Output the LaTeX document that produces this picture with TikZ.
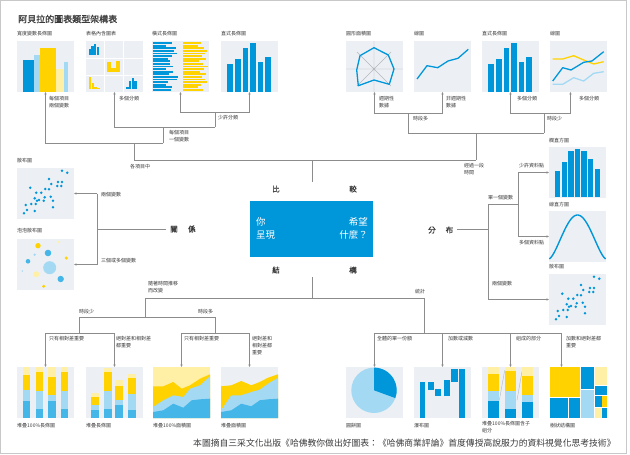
\documentclass[tikz,border=0pt]{standalone}
\usepackage{fontspec}
\setmainfont{Noto Sans CJK TC}
\newfontfamily\cjkb{Noto Sans CJK TC}[FakeBold=1.2]
\usetikzlibrary{arrows.meta,calc}
\definecolor{cblue}{HTML}{0096DA}
\definecolor{cmblue}{HTML}{45B6E8}
\definecolor{clblue}{HTML}{A4D9F4}
\definecolor{cyel}{HTML}{FFD200}
\definecolor{clyel}{HTML}{FFF0A6}
\definecolor{cbg}{HTML}{ECF0F4}
\definecolor{cline}{HTML}{8C8C8C}
\definecolor{ctext}{HTML}{3A3A3A}
\definecolor{cframe}{HTML}{C8C8C8}
\definecolor{caxis}{HTML}{B4B8BC}
\newcommand\mycolchart{\foreach \t [count=\i from 0] in {23,18.3,7,2,20.7,16} {\fill[cblue] ({6.3+\i*7.6},\t) rectangle ({12+\i*7.6},51);}}
\newcommand\myscatter{\foreach \px/\py in {45/2.7,50.3/4.7,32/11,41/14,45/14,34.3/16,40.3/18,44.3/18,13.3/19.7,28.3/21,32/21.3,24.3/24.7,19.3/24.7,27.7/29.3,33.7/28.7,17.7/30.3,20/32.7,22/32,26.7/32.7,36/32.7,14.3/36,18.7/36,8.7/37,36/39.3,10/42,17.7/43,7/45.3} {\fill[cblue] (\px,\py) circle[radius=1.4pt];}}
\begin{document}
\begin{tikzpicture}[x=1pt,y=-1pt,
 conn/.style={draw=cline, line width=0.55pt},
 arr/.style={conn, -{Stealth[length=2.6pt,width=2.4pt]}},
 panel/.style={fill=cbg, minimum width=57pt, minimum height=51pt, inner sep=0pt, outer sep=0pt, anchor=north west},
 bare/.style={panel, fill=none},
 lbl/.style={font=\fontsize{5}{7}\selectfont, text=ctext, inner sep=0pt, anchor=west},
 mlbl/.style={lbl, anchor=north west, align=left},
 big/.style={font=\cjkb\fontsize{7.5}{9}\selectfont, text=ctext, inner sep=0pt},
 qtxt/.style={font=\fontsize{9.5}{13}\selectfont, text=white, inner sep=0pt}]
\useasboundingbox (0,0) rectangle (630,455);
\draw[cframe, line width=1pt] (0.5,0.5) rectangle (626,453.5);

% title
\node[font=\cjkb\fontsize{9}{11}\selectfont, anchor=west, inner sep=0pt, text=ctext] (title) at (18,19) {阿貝拉的圖表類型架構表};

% panels
\node[panel] (A1) at (17,41) {};
\node[panel] (A2) at (86,41) {};
\node[panel] (A3) at (152,41) {};
\node[panel] (A4) at (221,41) {};
\node[panel] (B1) at (346,41) {};
\node[panel] (B2) at (414,41) {};
\node[panel] (B3) at (482,41) {};
\node[panel] (B4) at (550,41) {};
\node[panel] (C1) at (17,168) {};
\node[panel] (C2) at (17,239) {};
\node[panel] (D1) at (549,147) {};
\node[panel] (D2) at (549,211) {};
\node[panel] (D3) at (549,274) {};
\node[panel] (E1) at (17,367) {};
\node[panel] (E2) at (86,367) {};
\node[panel] (E3) at (153,367) {};
\node[panel] (E4) at (221,367) {};
\node[panel] (F1) at (346,367) {};
\node[panel] (F2) at (414,367) {};
\node[panel] (F3) at (482,367) {};
\node[bare] (F4) at (550,367) {};

% A1 variable width column
\begin{scope}[shift={(A1.north west)}]
\fill[cblue] (6,19) rectangle (17,51);
\fill[clblue] (17,14) rectangle (23,51);
\fill[cyel] (23.3,6.7) rectangle (39.3,51);
\fill[clyel] (39.3,28) rectangle (46.7,51);
\fill[clblue] (46.7,20.7) rectangle (51,51);
\end{scope}
% A2 table with charts
\begin{scope}[shift={(A2.north west)}]
\draw[white, line width=0.8pt] (18.3,0) -- (18.3,51) (37.7,0) -- (37.7,51) (0,17.3) -- (57,17.3) (0,34) -- (57,34);
\foreach \a/\t in {2.7/8,5.3/4.7,8/3.3,10.7/5.7} {\fill[cblue] (\a,\t) rectangle ({\a+2.3},14);}
\fill[cyel] (21,20.7) rectangle (24.5,30.7);
\fill[cyel] (24.8,27) rectangle (29.5,30.7);
\fill[cyel] (29.8,19.5) rectangle (33.7,30.7);
\foreach \a/\t in {2.7/36.3,5.5/41.5,8.3/45.5,11.1/46.5} {\fill[cyel] (\a,\t) rectangle ({\a+2.4},48.3);}
\foreach \a/\t in {40.3/46,43/39.5,45.7/37,48.4/40} {\fill[cblue] (\a,\t) rectangle ({\a+2.4},48.3);}
\end{scope}
% A3 bar chart
\begin{scope}[shift={(A3.north west)}]
\foreach \b/\c [count=\i from 0] in {20/49,14.3/46,23.7/52,21.7/55,25.3/53,19.7/50,15.7/54,18.3/47,17.7/51,21/56,13.7/52,21.3/48,17/54,26/50,25/53,16/55,14.3/49,20.3/46,19.3/51}
 {\fill[cblue] (1,{1.2+\i*2.6}) rectangle (\b,{3+\i*2.6});
  \fill[cyel] (30.7,{1.2+\i*2.6}) rectangle (\c,{3+\i*2.6});}
\end{scope}
% A4 column chart
\begin{scope}[shift={(A4.north west)}]\mycolchart\end{scope}
% B1 radar
\begin{scope}[shift={(B1.north west)}]
\draw[caxis, line width=0.4pt] (0,28) -- (57,28) (28,0) -- (28,51) (11,11) -- (45,45) (11,45) -- (45,11);
\draw[cblue, line width=1.3pt, line join=round] (28,6.7) -- (42.3,14) -- (48,28) -- (43.3,43.3) -- (28,39) -- (12.3,44.7) -- (10.7,29) -- (14,14.7) -- cycle;
\end{scope}
% B2 line
\begin{scope}[shift={(B2.north west)}]
\draw[cblue, line width=1.3pt, line join=round] (3,38) -- (13,24.7) -- (23.7,26.7) -- (34,20) -- (44,17.3) -- (54.3,8.3);
\end{scope}
% B3 column chart
\begin{scope}[shift={(B3.north west)}]\mycolchart\end{scope}
% B4 multi-line
\begin{scope}[shift={(B4.north west)}]
\draw[cyel, line width=1.3pt, line join=round] (2.7,18) -- (12.7,18) -- (23.7,14.7) -- (33.7,19) -- (43.7,23) -- (53.7,20.7);
\draw[clblue, line width=1.3pt, line join=round] (2.7,43.3) -- (12.7,43.3) -- (23.7,36.7) -- (33.7,40) -- (43.7,32.3) -- (53.7,30.7);
\draw[cblue, line width=1.3pt, line join=round] (2.7,40) -- (12.7,26.7) -- (21,29) -- (33.7,21.3) -- (42,20) -- (53.7,10.7);
\end{scope}
% C1 scatter
\begin{scope}[shift={(C1.north west)}]\myscatter\end{scope}
% C2 bubble
\begin{scope}[shift={(C2.north west)}]
\fill[cyel] (21,6.7) circle[radius=2.7pt];
\fill[clyel] (42,3) circle[radius=1.3pt];
\fill[cmblue] (31,14) circle[radius=3.3pt];
\fill[clblue] (17.7,15.7) circle[radius=1.3pt];
\fill[cyel] (49.3,19) circle[radius=1.7pt];
\fill[cmblue] (11,22.3) circle[radius=2.3pt];
\fill[clblue] (32.7,28.7) circle[radius=6.5pt];
\fill[clblue] (5.3,32) circle[radius=0.8pt];
\fill[clyel] (19.3,35.3) circle[radius=3pt];
\fill[cmblue] (43.7,40) circle[radius=3.2pt];
\fill[cyel] (26.7,47.3) circle[radius=1.7pt];
\end{scope}
% D1 histogram
\begin{scope}[shift={(D1.north west)}]
\foreach \t [count=\i from 0] in {24,15,4,2,4,12,22} {\fill[cblue] ({6+\i*6.6},\t) rectangle ({11.4+\i*6.6},49.5);}
\end{scope}
% D2 bell curve
\begin{scope}[shift={(D2.north west)}]
\draw[cblue, line width=1.4pt] plot[domain=0.3:56.7, samples=80, smooth] (\x,{48-44*pow(abs(sin(180*\x/57)),1.5)});
\end{scope}
% D3 scatter
\begin{scope}[shift={(D3.north west)}]\myscatter\end{scope}
% E1 stacked 100% column
\begin{scope}[shift={(E1.north west)}]
\foreach \a/\p/\q/\r in {5.5/8.3/23.3/34, 18.5/5/24/41.7, 31/10/27.7/34.3, 43.5/5/24/41.7}
 {\fill[clyel] (\a,0) rectangle ({\a+7.5},\p);
  \fill[cyel] (\a,\p) rectangle ({\a+7.5},\q);
  \fill[clblue] (\a,\q) rectangle ({\a+7.5},\r);
  \fill[cmblue] (\a,\r) rectangle ({\a+7.5},51);}
\end{scope}
% E2 stacked column
\begin{scope}[shift={(E2.north west)}]
\foreach \a/\o/\p/\q/\r in {5.3/25.7/30/37.7/42.7, 17.7/1/5/24.3/41.7, 29.3/13.3/19.3/33.3/38.3, 42/6.7/10.7/27.3/42.7}
 {\fill[clyel] (\a,\o) rectangle ({\a+8},\p);
  \fill[cyel] (\a,\p) rectangle ({\a+8},\q);
  \fill[clblue] (\a,\q) rectangle ({\a+8},\r);
  \fill[cmblue] (\a,\r) rectangle ({\a+8},51);}
\end{scope}
% E3 stacked 100% area
\begin{scope}[shift={(E3.north west)}]
\fill[clyel] (0,0) rectangle (57,51);
\fill[cyel] (0,19.3) -- (10.3,19.3) -- (20.3,15) -- (28.7,21.7) -- (37,18.3) -- (47,11.7) -- (57,7.3) -- (57,51) -- (0,51) -- cycle;
\fill[clblue] (0,40) -- (10.3,33.3) -- (20.3,28.3) -- (30.3,30) -- (37,21.7) -- (47,18.3) -- (57,9.3) -- (57,51) -- (0,51) -- cycle;
\fill[cmblue] (0,45) -- (10.3,43.3) -- (20.3,36.7) -- (30.3,40.7) -- (38.7,33.3) -- (47,32.3) -- (57,31.7) -- (57,51) -- (0,51) -- cycle;
\end{scope}
% E4 stacked area
\begin{scope}[shift={(E4.north west)}]
\fill[cyel] (0,19.3) -- (10.3,18.3) -- (20.3,14) -- (30.3,18.3) -- (38.7,15) -- (47,10.7) -- (57,7.3) -- (57,51) -- (0,51) -- cycle;
\fill[clblue] (0,43.3) -- (10.3,28.3) -- (20.3,28.3) -- (30.3,25) -- (38.7,22.7) -- (47,16.7) -- (57,10.7) -- (57,51) -- (0,51) -- cycle;
\fill[cmblue] (0,45) -- (10.3,43.3) -- (20.3,36.7) -- (30.3,39.3) -- (38.7,33.3) -- (47,32.3) -- (57,31.7) -- (57,51) -- (0,51) -- cycle;
\end{scope}
% F1 pie
\begin{scope}[shift={(F1.north west)}]
\fill[clblue] (28,23.3) circle[radius=22.7pt];
\fill[cblue] (28,23.3) -- ++(90:22.7pt) arc[start angle=90, end angle=-20, radius=22.7pt] -- cycle;
\end{scope}
% F2 waterfall
\begin{scope}[shift={(F2.north west)}]
\fill[cblue] (5.7,15) rectangle (11.3,51);
\fill[cblue] (13.7,15) rectangle (19.7,22.7);
\fill[cblue] (21.3,21.7) rectangle (27,29);
\fill[cblue] (29.7,13.3) rectangle (36.3,29);
\fill[cblue] (37,2.3) rectangle (43.7,15);
\fill[cblue] (44.7,2.3) rectangle (51,51);
\end{scope}
% F3 stacked 100% with subcomponents
\begin{scope}[shift={(F3.north west)}]
\draw[caxis, line width=0.4pt] (17.3,33.3) -- (22.7,3.3) (35,33.3) -- (40,4.3);
\foreach \a/\p/\q/\r in {5.7/7.3/24/34, 23/4.3/24/41.7, 40/9.3/27.7/35}
 {\fill[clyel] (\a,0) rectangle ({\a+11},\p);
  \fill[cyel] (\a,\p) rectangle ({\a+11},\q);
  \fill[clblue] (\a,\q) rectangle ({\a+11},\r);
  \fill[cblue] (\a,\r) rectangle ({\a+11},51);}
\end{scope}
% F4 treemap
\begin{scope}[shift={(F4.north west)}]
\fill[cyel] (0,0) rectangle (30,30);
\fill[cblue] (0,30.7) rectangle (18,51);
\fill[cblue] (19,30.7) rectangle (30,51);
\fill[cblue] (31.3,0) rectangle (44,21.7);
\fill[clblue] (31.3,22.7) rectangle (44,51);
\fill[clyel] (45,0) rectangle (56.7,17.7);
\fill[cblue] (45,18.7) rectangle (56.7,28.3);
\fill[cblue] (45,29.3) rectangle (51.7,40);
\fill[cyel] (52.3,29.3) rectangle (56.7,40);
\fill[clyel] (45,41) rectangle (51.7,51);
\fill[cblue] (52.3,41) rectangle (56.7,51);
\end{scope}

% centre box
\node[fill=cblue, minimum width=123pt, minimum height=56pt, inner sep=0pt] (Q) at (311.5,229) {};
\node[qtxt, anchor=north west, align=left] (q1) at (256,217) {你\\呈現};
\node[qtxt, anchor=north east, align=right] (q2) at (368,217) {希望\\什麼？};
\node[big] (cmp1) at (276,189) {比};
\node[big] (cmp2) at (353,189) {較};
\node[big] (str1) at (276,270) {結};
\node[big] (str2) at (353,270) {構};
\node[big, anchor=west] (rel) at (170,229) {關\hspace{10.5pt}係};
\node[big, anchor=west] (dist) at (428,230) {分\hspace{10pt}布};

% junction coordinates
\coordinate (cmpTop) at (312,182);
\coordinate (cmpJ) at (312,160);
\coordinate (jA) at (134,143);
\coordinate (jA2) at (163,127);
\coordinate (jA3) at (215,112);
\coordinate (jB) at (476,133);
\coordinate (jB1) at (408,113);
\coordinate (jB2) at (544,113);
\coordinate (b4a) at ($(B4.south)+(-8,0)$);
\coordinate (jR) at (97,229);
\coordinate (jD) at (488,229);
\coordinate (jD1) at (518,204);
\coordinate (strTop) at (312,277);
\coordinate (strJ) at (312,298);
\coordinate (jS1) at (145,317);
\coordinate (jS2) at (79,333);
\coordinate (jS3) at (215,333);
\coordinate (jS4) at (424,333);
\coordinate (f4a) at ($(F4.north)+(-17,0)$);

% comparison tree
\draw[conn] (cmpTop) -- (cmpJ);
\draw[conn] (jA |- cmpJ) -- (jB |- cmpJ);
\draw[conn] (jA |- cmpJ) -- (jA);
\draw[conn] (jB |- cmpJ) -- (jB);
\draw[arr] (jA2 |- jA) -- (A1.south |- jA) -- (A1.south);
\draw[conn] (jA2 |- jA) -- (jA2);
\draw[arr] (jA3 |- jA2) -- (A2.south |- jA2) -- (A2.south);
\draw[conn] (jA3 |- jA2) -- (jA3);
\draw[arr] (jA3) -- (A3.south |- jA3) -- (A3.south);
\draw[arr] (jA3) -- (A4.south |- jA3) -- (A4.south);
\draw[conn] (jB1 |- jB) -- (jB2 |- jB);
\draw[conn] (jB1 |- jB) -- (jB1);
\draw[conn] (jB2 |- jB) -- (jB2);
\draw[arr] (jB1) -- (B1.south |- jB1) -- (B1.south);
\draw[arr] (jB1) -- (B2.south |- jB1) -- (B2.south);
\draw[arr] (jB2) -- (B3.south |- jB2) -- (B3.south);
\draw[arr] (jB2) -- (b4a |- jB2) -- (b4a);
% relationship
\draw[conn] ($(rel.west)+(-4,0)$) -- (jR);
\draw[conn] (jR |- C1.east) -- (jR |- C2.east);
\draw[arr] (jR |- C1.east) -- (C1.east);
\draw[arr] (jR |- C2.east) -- (C2.east);
% distribution
\draw[conn] ($(dist.east)+(4,-1)$) -- (jD);
\draw[conn] (jD |- jD1) -- (jD |- D3.west);
\draw[arr] (jD |- D3.west) -- (D3.west);
\draw[conn] (jD |- jD1) -- (jD1);
\draw[conn] (jD1 |- D1.west) -- (jD1 |- D2.west);
\draw[arr] (jD1 |- D1.west) -- (D1.west);
\draw[arr] (jD1 |- D2.west) -- (D2.west);
% composition
\draw[conn] (strTop) -- (strJ);
\draw[conn] (jS1 |- strJ) -- (jS4 |- strJ);
\draw[conn] (jS1 |- strJ) -- (jS1);
\draw[conn] (jS4 |- strJ) -- (jS4);
\draw[conn] (jS2 |- jS1) -- (jS3 |- jS1);
\draw[conn] (jS2 |- jS1) -- (jS2);
\draw[conn] (jS3 |- jS1) -- (jS3);
\draw[arr] (jS2) -- (E1.north |- jS2) -- (E1.north);
\draw[arr] (jS2) -- (E2.north |- jS2) -- (E2.north);
\draw[arr] (jS3) -- (E3.north |- jS3) -- (E3.north);
\draw[arr] (jS3) -- (E4.north |- jS3) -- (E4.north);
\draw[arr] (jS4) -- (F1.north |- jS4) -- (F1.north);
\draw[arr] (jS4) -- (f4a |- jS4) -- (f4a);
\draw[arr] (F2.north |- jS4) -- (F2.north);
\draw[arr] (F3.north |- jS4) -- (F3.north);

% panel titles
\node[lbl] (ta1) at (17,34) {寬度變數長條圖};
\node[lbl] (ta2) at (86,34) {表格內含圖表};
\node[lbl] (ta3) at (152,34) {橫式長條圖};
\node[lbl] (ta4) at (221,34) {直式長條圖};
\node[lbl] (tb1) at (346,34) {圓形面積圖};
\node[lbl] (tb2) at (414,34) {線圖};
\node[lbl] (tb3) at (482,34) {直式長條圖};
\node[lbl] (tb4) at (550,34) {線圖};
\node[lbl] (tc1) at (17,161) {散布圖};
\node[lbl] (tc2) at (17,231) {泡泡散布圖};
\node[lbl] (td1) at (549,141) {欄直方圖};
\node[lbl] (td2) at (549,205) {線直方圖};
\node[lbl] (td3) at (549,267) {散布圖};
\node[lbl] (te1) at (17,426) {堆疊100\%長條圖};
\node[lbl] (te2) at (86,426) {堆疊長條圖};
\node[lbl] (te3) at (153,426) {堆疊100\%面積圖};
\node[lbl] (te4) at (221,426) {堆疊面積圖};
\node[lbl] (tf1) at (346,426) {圓餅圖};
\node[lbl] (tf2) at (414,426) {瀑布圖};
\node[mlbl] (tf3) at (482,421.5) {堆疊100\%長條圖含子\\組分};
\node[lbl] (tf4) at (550,426) {樹狀結構圖};

% connector labels
\node[mlbl] (l1) at (49,96.5) {每個項目\\兩個變數};
\node[lbl] (l2) at (119,99) {多個分類};
\node[lbl] (l3) at (218,118) {少許分類};
\node[mlbl] (l4) at (169,130.5) {每個項目\\一個變數};
\node[lbl] (l5) at (130,167) {各項目中};
\node[mlbl] (l6) at (464,163.5) {經過一段\\時間};
\node[mlbl] (r1) at (379,96.5) {週期性\\數據};
\node[mlbl] (r2) at (446,96.5) {非週期性\\數據};
\node[lbl] (r3) at (517,99) {多個分類};
\node[lbl] (r4) at (579,99) {多個分類};
\node[lbl] (r5) at (413,119) {時段多};
\node[lbl] (r6) at (547,119) {時段少};
\node[lbl] (s1) at (101,195) {兩個變數};
\node[lbl] (s2) at (101,261) {三個或多個變數};
\node[lbl] (d1) at (519,166) {少許資料點};
\node[lbl] (d2) at (488,198) {單一個變數};
\node[lbl] (d3) at (519,243) {多個資料點};
\node[lbl] (d4) at (492,284) {兩個變數};
\node[mlbl] (k1) at (148,281.5) {隨著時間推移\\而改變};
\node[lbl] (k2) at (415,292) {統計};
\node[lbl] (k3) at (79,312) {時段少};
\node[lbl] (k4) at (198,312) {時段多};
\node[lbl] (k5) at (49,339) {只有相對差重要};
\node[mlbl] (k6) at (116,336.5) {絕對差和相對差\\都重要};
\node[lbl] (k7) at (184,339) {只有相對差重要};
\node[mlbl] (k8) at (252,336.5) {絕對差和\\相對差都\\重要};
\node[lbl] (k9) at (377,339) {全體的單一份額};
\node[lbl] (k10) at (448,339) {加數或減數};
\node[lbl] (k11) at (516,339) {組成的部分};
\node[mlbl] (k12) at (566,336.5) {加數和絕對差都\\重要};

% footer
\node[font=\fontsize{8.8}{10}\selectfont, text=ctext, anchor=west, inner sep=0pt] (foot) at (193,443) {本圖摘自三采文化出版《哈佛教你做出好圖表：《哈佛商業評論》首度傳授高說服力的資料視覺化思考技術》};
\end{tikzpicture}
\end{document}
